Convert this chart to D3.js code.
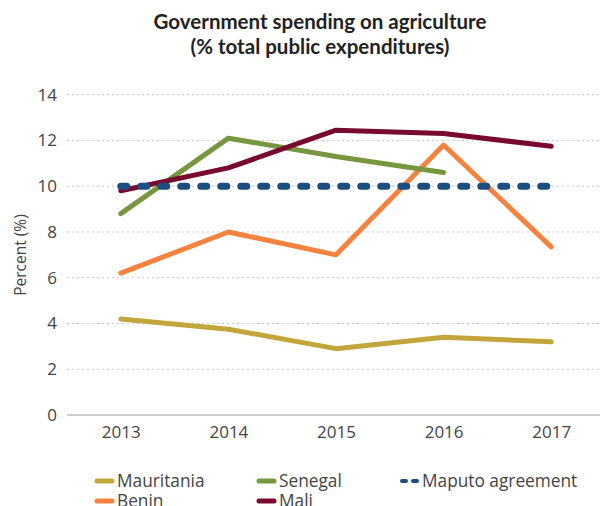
<!DOCTYPE html>
<html><head><meta charset="utf-8">
<script src="https://cdn.jsdelivr.net/npm/d3@7"></script>
<style>body{margin:0;background:#fff}svg{display:block}</style>
</head><body><svg id="c" width="600" height="506"></svg>
<script>
const years = ["2013","2014","2015","2016","2017"];
const mauritania = [4.2, 3.75, 2.9, 3.4, 3.2];
const senegal = [8.8, 12.1, 11.3, 10.6, null];
const benin = [6.2, 8.0, 7.0, 11.8, 7.35];
const mali = [9.8, 10.8, 12.45, 12.3, 11.75];
const maputo = [10, 10, 10, 10, 10];
const yTicks = [0, 2, 4, 6, 8, 10, 12, 14];

const series = [
  {name:"Mauritania", values:mauritania, color:"#C3A63B", dash:null},
  {name:"Senegal", values:senegal, color:"#77973F", dash:null},
  {name:"Benin", values:benin, color:"#F5833F", dash:null},
  {name:"Mali", values:mali, color:"#780A30", dash:null},
  {name:"Maputo agreement", values:maputo, color:"#1B4F82", dash:"6,14"}
];

const svg = d3.select("#c");
const x = d3.scalePoint().domain(years).range([67, 605]).padding(0.5);
const y = d3.scaleLinear().domain([0, 14]).range([415, 94.7]);

// title
const t = svg.append("text").attr("x", 320).attr("text-anchor","middle")
  .attr("font-family","Lato, 'Noto Sans', sans-serif").attr("font-weight","bold")
  .attr("font-size",20.5).attr("fill","#222");
t.append("tspan").attr("x",320).attr("y",29).text("Government spending on agriculture");
t.append("tspan").attr("x",320).attr("y",54).text("(% total public expenditures)");

// grid
svg.append("g").selectAll("line").data(yTicks.filter(d=>d>0)).join("line")
  .attr("x1",67).attr("x2",600).attr("y1",d=>y(d)).attr("y2",d=>y(d))
  .attr("stroke","#c8c8c8").attr("stroke-width",1).attr("stroke-dasharray","2,3");
svg.append("line").attr("x1",67).attr("x2",600).attr("y1",y(0)).attr("y2",y(0))
  .attr("stroke","#cfcfcf").attr("stroke-width",2);

// y axis labels
const yAxis = svg.append("g").attr("transform","translate(57,0)")
  .call(d3.axisLeft(y).tickValues(yTicks).tickSize(0).tickPadding(0));
yAxis.select(".domain").remove();
yAxis.selectAll("text").attr("font-family","'Open Sans', 'Noto Sans', sans-serif")
  .attr("font-size",17).attr("fill","#444");

const xAxis = svg.append("g").attr("transform","translate(0,426)")
  .call(d3.axisBottom(x).tickSize(0).tickPadding(0));
xAxis.select(".domain").remove();
xAxis.selectAll("text").attr("font-family","'Open Sans', 'Noto Sans', sans-serif")
  .attr("font-size",17).attr("fill","#444");

svg.append("text").attr("transform","translate(26,255) rotate(-90)")
  .attr("text-anchor","middle").attr("font-family","'Open Sans', 'Noto Sans', sans-serif")
  .attr("font-size",15.5).attr("fill","#444").text("Percent (%)");

const line = d3.line().defined(d=>d.v!=null).x(d=>x(d.year)).y(d=>y(d.v));
const order = ["Mauritania","Benin","Senegal","Mali","Maputo agreement"];
order.forEach(n=>{
  const s = series.find(q=>q.name===n);
  const data = years.map((yr,i)=>({year:yr, v:s.values[i]}));
  svg.append("path").datum(data).attr("d", line).attr("fill","none")
    .attr("stroke", s.color).attr("stroke-width", s.dash?7:5)
    .attr("stroke-linecap","round").attr("stroke-linejoin","round")
    .attr("stroke-dasharray", s.dash);
});

// legend
const legendItems = [
  {name:"Mauritania", col:0, row:0},
  {name:"Senegal", col:1, row:0},
  {name:"Maputo agreement", col:2, row:0},
  {name:"Benin", col:0, row:1},
  {name:"Mali", col:1, row:1}
];
const colX = [95, 257, 400];
const lg = svg.append("g");
legendItems.forEach(it=>{
  const s = series.find(q=>q.name===it.name);
  const yy = 481 + it.row*20;
  const x0 = colX[it.col];
  if (s.dash) {
    lg.append("line").attr("x1",x0+2).attr("x2",x0+17).attr("y1",yy).attr("y2",yy)
      .attr("stroke",s.color).attr("stroke-width",4).attr("stroke-linecap","round")
      .attr("stroke-dasharray","4,7");
  } else {
    lg.append("line").attr("x1",x0+2).attr("x2",x0+17).attr("y1",yy).attr("y2",yy)
      .attr("stroke",s.color).attr("stroke-width",5).attr("stroke-linecap","round");
  }
  lg.append("text").attr("x",x0+22).attr("y",yy+6)
    .attr("font-family","'Open Sans', 'Noto Sans', sans-serif").attr("font-size",17.3)
    .attr("fill","#444").text(s.name);
});
</script></body></html>
